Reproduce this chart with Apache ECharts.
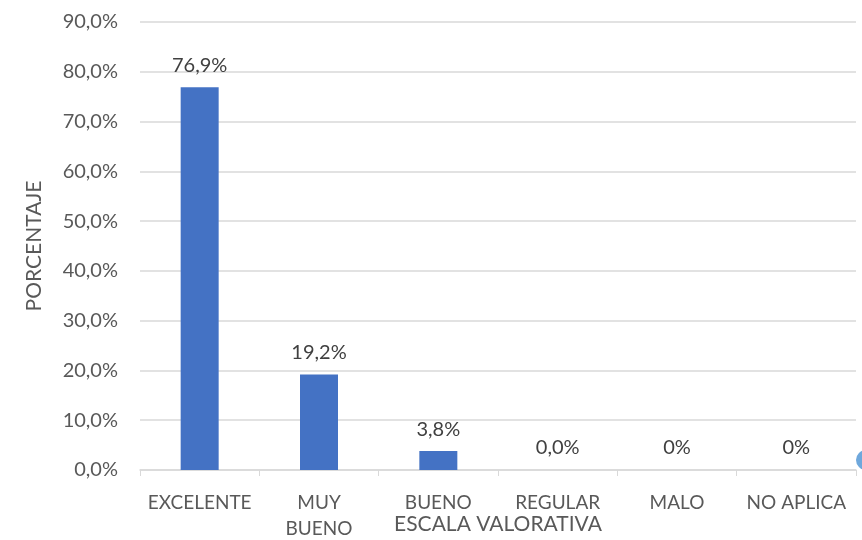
<!DOCTYPE html>
<html><head><meta charset="utf-8">
<script src="https://cdn.jsdelivr.net/npm/echarts@6/dist/echarts.min.js"></script>
<style>html,body{margin:0;padding:0;background:#fff}#c{width:862px;height:540px}</style>
</head><body><div id="c"></div>
<script>
const categories = ['EXCELENTE', 'MUY\nBUENO', 'BUENO', 'REGULAR', 'MALO', 'NO APLICA'];
const values = [76.9, 19.2, 3.8, 0, 0, 0];
const valueLabels = ['76,9%', '19,2%', '3,8%', '0,0%', '0%', '0%'];
const yTicks = ['0,0%','10,0%','20,0%','30,0%','40,0%','50,0%','60,0%','70,0%','80,0%','90,0%'];
const FONT = 'Lato';
const chart = echarts.init(document.getElementById('c'));
chart.setOption({
  animation: false,
  grid: {left: 140, right: 6, top: 22, bottom: 70, outerBoundsMode: 'none', containLabel: false},
  xAxis: {
    type: 'category', data: categories,
    name: 'ESCALA VALORATIVA', nameLocation: 'middle', nameGap: 44, nameMoveOverlap: false,
    nameTextStyle: {color: '#595959', fontSize: 21, fontFamily: FONT},
    axisLine: {lineStyle: {color: '#d9d9d9', width: 1.5}},
    axisTick: {show: true, length: 6, lineStyle: {color: '#d9d9d9'}},
    axisLabel: {color: '#595959', fontSize: 19, fontFamily: FONT, margin: 20, lineHeight: 26, interval: 0}
  },
  yAxis: {
    type: 'value', min: 0, max: 90, interval: 10,
    name: 'PORCENTAJE', nameLocation: 'middle', nameGap: 95, nameRotate: 90, nameMoveOverlap: false,
    nameTextStyle: {color: '#595959', fontSize: 21, fontFamily: FONT},
    axisLine: {show: false}, axisTick: {show: false},
    splitLine: {lineStyle: {color: '#d9d9d9', width: 1.5}},
    axisLabel: {color: '#595959', fontSize: 20, fontFamily: FONT, margin: 22,
      formatter: v => yTicks[Math.round(v / 10)]}
  },
  series: [{
    type: 'bar', data: values, barWidth: 38,
    itemStyle: {color: '#4472C4'},
    label: {show: true, position: 'top', distance: 12, color: '#404040', fontSize: 20, fontFamily: FONT,
      formatter: p => valueLabels[p.dataIndex]}
  }],
  graphic: [{type: 'circle', shape: {cx: 866, cy: 460, r: 10}, style: {fill: '#6FA8DC'}}]
});
</script></body></html>
